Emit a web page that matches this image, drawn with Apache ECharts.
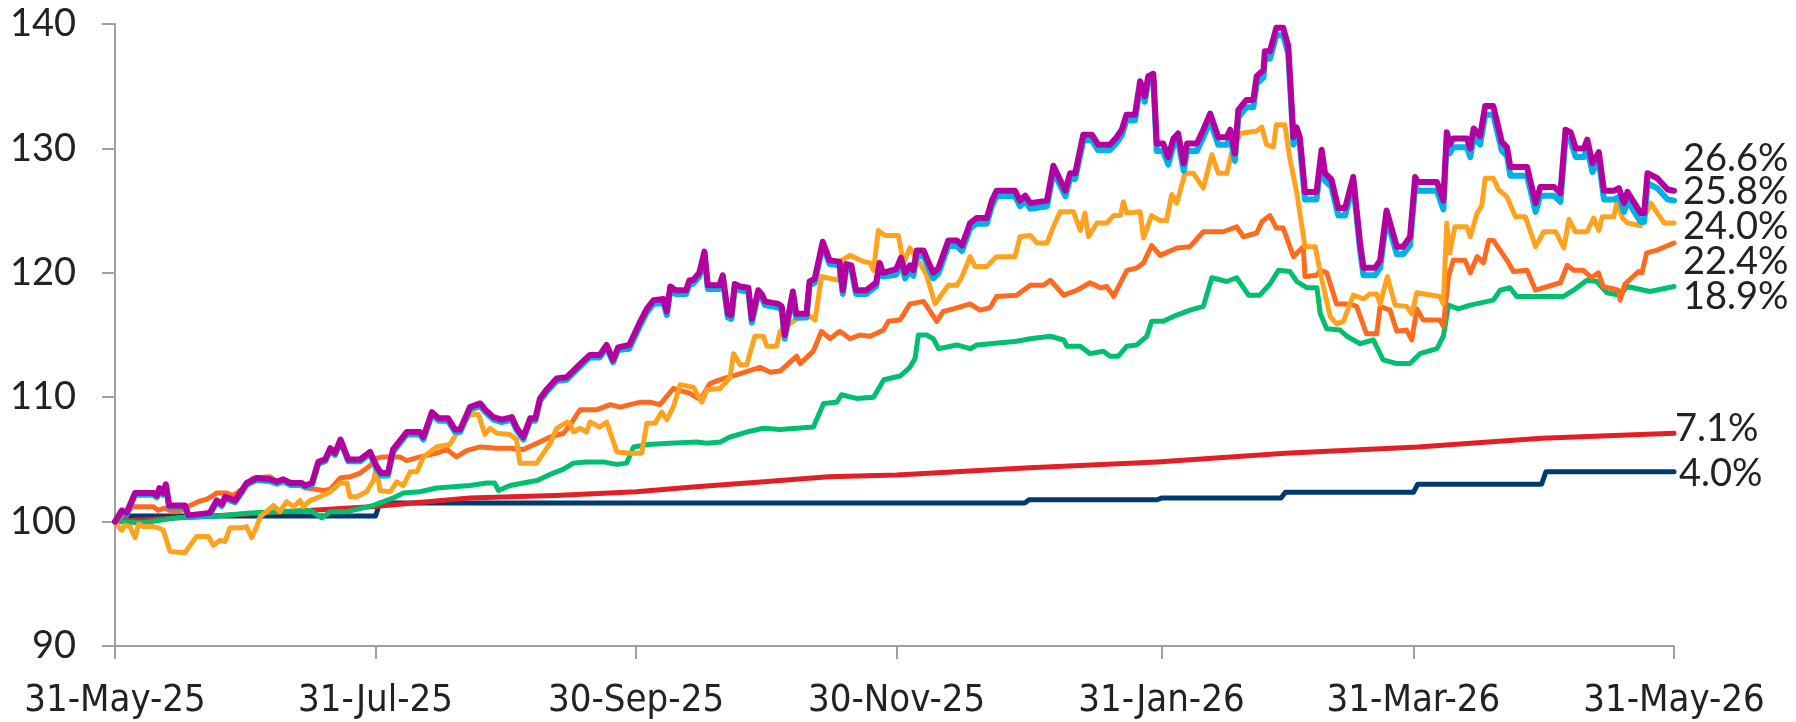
<!DOCTYPE html>
<html>
<head>
<meta charset="utf-8">
<title>Index performance</title>
<script src="https://cdn.jsdelivr.net/npm/echarts@6/dist/echarts.min.js"></script>
<style>
  html, body { margin: 0; padding: 0; background: #fff; }
  #chart { width: 1796px; height: 722px; }
</style>
</head>
<body>
<div id="chart"></div>
<script>
// x values are days counted from 31-May-25
const tickDays = [0, 61, 122, 183, 245, 304, 365];
const tickLabels = ['31-May-25', '31-Jul-25', '30-Sep-25', '30-Nov-25', '31-Jan-26', '31-Mar-26', '31-May-26'];

// magenta and cyan share the same dates
const mDays = [
  0, 1.6, 2.7, 4.7, 9, 9.8, 10.4, 11.2, 11.9, 12.7,
  16.4, 17.2, 22.2, 23.8, 25, 25.8, 28.1, 29.7, 30.8, 33.2,
  36.3, 37.9, 39.4, 41, 43.7, 44.5, 46.1, 47.6, 49.2, 50.4,
  51.5, 52.8, 54.6, 57.4, 59.7, 61.3, 62.4, 63.9, 65.1, 68.3,
  71.4, 72.2, 74.2, 75.8, 78, 79.6, 80.8, 83.1, 85.5, 86.7,
  88.6, 90.6, 92.9, 94.1, 95.6, 97.2, 98.4, 99.5, 101, 103.4,
  105.7, 108.1, 109.6, 111.2, 113.5, 115.1, 116.6, 117.8, 120.4, 123,
  124.5, 126.1, 128.4, 129.2, 130, 131.2, 133.7, 134.5, 135.3, 136.8,
  138, 138.8, 141.5, 142.3, 143.5, 144.3, 145.1, 146.3, 148.3, 149.1,
  150.6, 151.4, 152.2, 155.3, 156.1, 156.8, 158.7, 159.5, 161.9, 162.6,
  163.8, 165.7, 167.3, 169.6, 170.4, 171.2, 172.4, 173.5, 175.9, 178.2,
  179, 179.8, 182.9, 184, 185, 186.1, 186.9, 187.7, 189.3, 190.5,
  191.6, 192.8, 195.1, 197.1, 198.3, 200.2, 201.7, 204.1, 205.3, 206.4,
  210.7, 211.9, 213.1, 214.3, 218.2, 219.7, 222.5, 223.6, 224.8, 226.7,
  228.7, 230.2, 232.9, 234.5, 235.7, 236.8, 238.8, 240, 241.1, 241.9,
  243.1, 243.9, 245.4, 246.6, 247.8, 248.9, 250.2, 251, 253.3, 254.8,
  256.4, 258.3, 260.3, 261.1, 262.2, 263, 264.9, 266.5, 267.3, 268.9,
  269.2, 270.4, 271.9, 273.5, 274.7, 275.9, 276.6, 277.4, 278.6, 281.3,
  282.5, 283.3, 284.8, 286.4, 288, 289.9, 291.5, 292.3, 295, 296.2,
  297.7, 300.1, 301.6, 303.2, 304.4, 305, 309.5, 311, 311.8, 312.5,
  313.3, 316.5, 317.3, 318.1, 319.6, 320.8, 322.7, 324.7, 325.9, 326.7,
  330.6, 332.6, 333.7, 336.9, 338.4, 339.6, 340.8, 342, 343.9, 344.7,
  345.9, 347.4, 348.6, 351, 352.1, 353.3, 354.1, 357.2, 358, 358.8,
  361.1, 363.5, 365
];
const magenta = [
  100, 100.9, 100.7, 102.3, 102.3, 102.1, 102.7, 102.3, 103, 101.3,
  101.3, 100.5, 100.7, 101.7, 101.4, 102, 101.7, 102.5, 103.1, 103.5,
  103.4, 103.2, 103.4, 103.1, 103.1, 102.9, 103.1, 104.8, 105, 105.9,
  105.5, 106.6, 105, 105, 105.6, 104.4, 103.9, 103.9, 105.8, 107.2,
  107.2, 106.8, 108.8, 108.3, 108.3, 107.4, 107.4, 109.2, 109.5, 109,
  108.4, 108.2, 108.4, 107.5, 106.8, 108.3, 108.3, 109.9, 110.6, 111.5,
  111.6, 112.4, 112.9, 113.4, 113.4, 114.2, 113, 114, 114.2, 116.1,
  117.1, 117.8, 117.9, 116.9, 118.9, 118.6, 118.6, 119.4, 119.4, 120,
  121.7, 119, 119, 119.8, 116.7, 116.6, 119.1, 118.9, 118.8, 116.3,
  118.6, 118.3, 117.7, 117.5, 117.3, 115, 118.5, 116.7, 116.7, 119.3,
  119.5, 122.5, 121, 120.9, 118.6, 120.7, 120.6, 118.6, 118.6, 119.2,
  120.8, 120, 120.3, 121.2, 120, 120.6, 120.2, 121.8, 121.8, 120.8,
  120, 120.4, 122.6, 122.6, 122.2, 124, 124.4, 124.4, 125.8, 126.6,
  126.6, 125.8, 126.2, 125.6, 125.8, 128.6, 126.6, 128, 128, 131.1,
  131.1, 130.3, 130.3, 130.9, 131.5, 132.7, 132.7, 135.4, 134.2, 135.8,
  136, 130.4, 130.4, 129.3, 130.8, 131.2, 128.8, 130.4, 130.4, 131.5,
  132.8, 130.9, 130.9, 131.5, 129.6, 133.1, 133.9, 133.9, 135.8, 136.3,
  137.8, 137.8, 139.7, 139.7, 138.2, 130.9, 131.7, 130.9, 126.5, 126.5,
  129.9, 128, 127.5, 125.2, 125.2, 127.7, 122.4, 120.4, 120.4, 121,
  125, 122.1, 122.1, 122.9, 127.7, 127.3, 127.3, 125.8, 131.3, 130.3,
  130.8, 130.8, 130, 131.6, 131, 133.4, 133.4, 130.5, 130.1, 128.5,
  128.5, 125.6, 126.9, 126.9, 126.4, 131.5, 131.3, 130, 130, 130.7,
  128.8, 129.7, 126.6, 126.6, 126.8, 125.6, 126.5, 124.8, 124.8, 128,
  127.6, 126.7, 126.6
];
const cyan = [
  100, 100.75, 100.55, 102.15, 102.15, 101.95, 102.55, 102.15, 102.85, 101.15,
  101.15, 100.35, 100.55, 101.55, 101.25, 101.85, 101.55, 102.35, 102.95, 103.35,
  103.25, 103.05, 103.25, 102.95, 102.95, 102.75, 102.95, 104.65, 104.85, 105.75,
  105.35, 106.45, 104.85, 104.85, 105.45, 104.2, 103.7, 103.7, 105.6, 107,
  107, 106.6, 108.6, 108.1, 108.1, 107.2, 107.2, 109, 109.3, 108.8,
  108.2, 108, 108.2, 107.3, 106.6, 108.1, 108.1, 109.7, 110.4, 111.3,
  111.4, 112.2, 112.7, 113.2, 113.2, 114, 112.8, 113.8, 113.9, 115.8,
  116.8, 117.5, 117.6, 116.6, 118.6, 118.3, 118.3, 119.1, 119.1, 119.7,
  121.4, 118.7, 118.7, 119.5, 116.4, 116.3, 118.8, 118.6, 118.5, 116,
  118.3, 118, 117.4, 117.2, 117, 114.7, 118.2, 116.4, 116.4, 119,
  119.2, 122.2, 120.7, 120.6, 118.3, 120.4, 120.3, 118.3, 118.3, 118.9,
  120.5, 119.7, 119.85, 120.75, 119.55, 120.15, 119.75, 121.35, 121.35, 120.35,
  119.55, 119.95, 122.15, 122.15, 121.75, 123.55, 123.95, 123.95, 125.35, 126.15,
  126.15, 125.35, 125.75, 125.15, 125.35, 128.15, 126.15, 127.55, 127.55, 130.65,
  130.65, 129.85, 129.85, 130.45, 131.05, 132.25, 132.25, 134.95, 133.75, 135.35,
  135.5, 129.8, 129.8, 128.7, 130.2, 130.6, 128.2, 129.8, 129.8, 130.9,
  132.2, 130.3, 130.3, 130.9, 129, 132.5, 133.3, 133.3, 135.2, 135.7,
  137.2, 137.2, 139.1, 139.1, 137.6, 130.3, 131.1, 130.3, 125.9, 125.9,
  129.3, 127.4, 126.9, 124.6, 124.6, 127.1, 121.8, 119.8, 119.8, 120.4,
  124.4, 121.5, 121.5, 122.2, 127, 126.6, 126.6, 125.1, 130.6, 129.6,
  130.1, 130.1, 129.3, 130.9, 130.3, 132.7, 132.7, 129.8, 129.4, 127.8,
  127.8, 124.9, 126.2, 126.2, 125.7, 130.8, 130.6, 129.3, 129.3, 130,
  128.1, 129, 125.9, 125.9, 126.1, 124.9, 125.8, 124.1, 124.1, 127.2,
  126.8, 125.9, 125.8
];

const yDays = [
  0, 0.8, 1.6, 2.3, 3.5, 4.7, 5.5, 6.6, 9, 10.1,
  11.3, 12.9, 16.4, 17.6, 19.1, 21.9, 23, 24.6, 25.8, 26.9,
  29.7, 30.8, 32, 33.2, 34, 35.5, 37.1, 38.6, 40.2, 41.8,
  43.3, 44.1, 45.7, 48, 50.4, 52.7, 54.3, 55, 56.6, 58.9,
  60.5, 61.3, 62, 64.4, 66, 67.5, 69.1, 70.7, 72.2, 75.3,
  78.4, 80, 83.1, 85.1, 86.6, 87.8, 89.4, 92.5, 94, 94.8,
  98.7, 101.9, 103.4, 105.8, 106.5, 107.3, 108.9, 110.4, 111.2, 113.5,
  115.1, 117.5, 120.6, 123.3, 124.5, 126.4, 128, 129.2, 130.7, 132.3,
  135.4, 137.4, 138.6, 141.7, 144, 144.8, 146.4, 147.9, 149.8, 151.8,
  152.6, 154.9, 155.7, 157.3, 159.6, 162.7, 163.9, 165.4, 169.4, 170.1,
  172.1, 175.2, 176.8, 177.6, 178.7, 180.3, 183.4, 184.6, 186.1, 188.9,
  190, 192, 193.2, 195.1, 197.1, 198.2, 200.2, 201.4, 204.1, 206.4,
  210.7, 211.9, 214.3, 215.8, 218.2, 219.7, 221.3, 224.4, 226, 227.1,
  227.9, 229.9, 232.2, 233.8, 235.4, 236.1, 236.9, 240, 240.8, 242.7,
  244.7, 246.2, 247.4, 248.6, 250.5, 252.5, 254.8, 256.8, 258.3, 260.3,
  261.5, 263.4, 267.3, 268.5, 269.6, 271.2, 271.9, 273.9, 275.1, 276.7,
  278.6, 281, 282.2, 284.5, 286, 287.6, 289.9, 292.3, 293.8, 295.4,
  296.2, 297.9, 299.7, 302.4, 303.6, 304.8, 310.2, 311, 311.8, 312.5,
  313.7, 316.5, 317.3, 318.9, 320, 320.8, 322.7, 323.9, 325.9, 327.9,
  330.2, 332.6, 334.5, 337.3, 339.2, 340.4, 341.9, 344.6, 346.2, 347.4,
  348.2, 350.9, 351.7, 352.9, 354.1, 357.2, 358, 359.6, 361.1, 362.7,
  365
];
const yellow = [
  100, 99.6, 99.3, 99.7, 99.6, 98.7, 99.8, 99.6, 99.6, 99.5,
  99.3, 97.6, 97.5, 98.1, 98.8, 98.8, 98.1, 98.5, 98.4, 99.5,
  99.5, 99.6, 98.7, 99.6, 100.4, 100.8, 101.3, 100.8, 101.6, 101.2,
  101.7, 101.2, 101.7, 102, 102.4, 103.1, 103.1, 102, 102, 102.4,
  103.3, 104.5, 102.5, 102.4, 103.2, 102.9, 104, 104, 105.2, 106,
  106.2, 107.1, 108.6, 108.6, 107, 107.5, 107.1, 107, 106.6, 104.7,
  104.7, 106.3, 107.5, 108, 107.9, 107.2, 107.5, 107.2, 108, 107.6,
  108, 105.6, 105.5, 105.5, 107.9, 107.9, 108.8, 108.2, 109.2, 111,
  110.8, 109.6, 110.6, 110.7, 111.6, 113.5, 112.6, 112.6, 114.9, 114.9,
  114.1, 114.1, 115.3, 115.7, 116.3, 116.5, 116.2, 119.7, 119.4, 121,
  121.4, 120.9, 120.8, 120.2, 123.4, 123, 123, 120.8, 122, 120.5,
  119.8, 117.5, 118.1, 119, 119, 119.6, 121.3, 120.5, 120.5, 121.3,
  121.3, 122.9, 123, 122.4, 122.4, 123.7, 124.9, 124.9, 123.4, 124.8,
  122.9, 124, 124, 124.6, 124.6, 125.7, 124.8, 124.9, 122.8, 124.6,
  124.2, 124.2, 126.3, 125.6, 128, 128, 126.8, 129.5, 128, 128,
  129.7, 131.2, 131.4, 131.7, 130.3, 130.1, 131.9, 131.9, 129.1, 126.4,
  122.1, 122.1, 120, 116.5, 115.9, 116.1, 118.2, 117.9, 118.3, 118.3,
  117.5, 119.7, 117.4, 117.3, 116.7, 118.4, 118.1, 117.5, 124, 121.6,
  123.7, 123.7, 122.9, 124.8, 125.4, 127.6, 127.6, 126.7, 126.1, 124.5,
  124.5, 122.1, 123.3, 123.3, 122, 124.3, 123.3, 123.3, 124.4, 123.4,
  124.5, 124.5, 125.8, 124.4, 124, 123.8, 124.5, 125.6, 124.8, 124,
  124
];

const oDays = [
  0, 4.3, 9, 10.1, 11.7, 13.3, 15.6, 17.6, 19.5, 21.5,
  23, 23.8, 26.2, 27.7, 29.7, 31.2, 32.4, 36.3, 37.9, 40.2,
  42.5, 44.9, 48.8, 50.4, 52.7, 55, 57.4, 59.7, 61.3, 62.8,
  66.7, 68.3, 71.4, 75.3, 77.7, 80, 82.3, 85.5, 89.4, 92.5,
  95.6, 98.8, 101.9, 105, 106.6, 108.9, 112.8, 116, 118.3, 120.6,
  123, 125.3, 127.6, 130.7, 134.6, 137, 139.3, 142.4, 146.4, 151,
  153.4, 155.7, 159.6, 160.4, 163.5, 165.4, 167.4, 169.7, 172.1, 174.4,
  176.8, 179.9, 181.1, 183.8, 186.1, 189.3, 192.4, 193.9, 196.3, 200.2,
  202.5, 204.9, 206.4, 211.1, 214.3, 217.4, 219, 222.1, 225.2, 228.3,
  230.7, 232.2, 233.8, 236.9, 239.3, 240.8, 242.7, 244.7, 248.6, 251.7,
  254.8, 259.5, 262.6, 264.2, 267.3, 268.5, 270.4, 271.9, 273.5, 275.9,
  278.2, 278.6, 281.3, 282.2, 283.7, 286, 289.1, 290.7, 293, 295.4,
  296.2, 298.5, 300.1, 302.4, 303.6, 304.8, 306.3, 310.2, 311, 312.2,
  313.3, 316.1, 317.3, 318.9, 320.4, 321.6, 322.7, 325.9, 327.4, 330.6,
  332.6, 338.4, 340, 341.5, 343.8, 345.7, 347.3, 348.4, 352, 352.4,
  353.5, 356.7, 357.5, 358.6, 360.9, 365
];
const orange = [
  100, 101.2, 101.2, 100.9, 101.1, 100.8, 100.9, 101.3, 101.6, 101.8,
  102.1, 102.3, 102.3, 102.1, 102.6, 103.1, 103.5, 103.6, 103.2, 103.3,
  103, 102.7, 102.5, 102.6, 103.5, 103.6, 103.9, 104.5, 105.1, 105.2,
  105.2, 104.9, 105.2, 105.5, 105.8, 105.2, 105.7, 106, 105.9, 105.9,
  105.8, 106.3, 106.8, 107.1, 107.8, 109, 109, 109.4, 109.2, 109.4,
  109.6, 109.6, 109.4, 110.7, 110.3, 109.8, 111.1, 111.5, 111.9, 112.4,
  112, 112.1, 113.3, 112.7, 113.7, 115.3, 114.7, 115.3, 114.7, 115,
  114.9, 115.4, 116.1, 116.2, 117.5, 117.7, 116.1, 116.9, 117.1, 117.5,
  117, 117.2, 118.1, 118.2, 119, 119, 119.4, 118.2, 118.6, 119.2,
  118.8, 118.9, 118.1, 120.2, 120.4, 120.8, 122.2, 121.4, 122, 122.1,
  123.3, 123.3, 123.7, 122.9, 123.2, 124.1, 124.6, 123.6, 123.6, 121.3,
  122.1, 119.7, 119.8, 120.2, 120, 117.5, 117.5, 117.3, 115.1, 115.1,
  117.3, 117, 115.3, 115.4, 114.6, 117.1, 116.2, 116.2, 115.7, 119.7,
  121, 121, 120, 121.3, 120.8, 122.6, 122.6, 121, 120.1, 120.2,
  118.6, 119.2, 120.6, 120.2, 120.2, 119.6, 120, 118.9, 118.6, 117.8,
  119.1, 120.1, 120, 121.6, 121.8, 122.4
];

const gDays = [
  0, 6.6, 14.4, 22.2, 31.6, 37.9, 45.7, 48.4, 50.4, 54.3,
  58.2, 60.5, 62.1, 65.2, 67.5, 71.4, 75.3, 79.2, 83.1, 87,
  88.9, 89.8, 92.5, 95.6, 98.8, 102.6, 104.9, 107.3, 110.4, 114.3,
  117.5, 119.8, 121.4, 124.8, 129.9, 136.2, 138.6, 141.7, 144, 147.9,
  151.8, 155.7, 159.6, 163.5, 165.9, 169, 170.1, 173.6, 177.6, 180,
  183.8, 186.1, 187.3, 188.1, 190, 191.6, 192.8, 197.1, 200.2, 201.8,
  204.9, 211.1, 214.3, 219, 222.1, 222.9, 226, 228.3, 231.4, 233,
  234.9, 236.9, 239.2, 241.6, 242.7, 245.4, 248.6, 251.7, 254.8, 256.8,
  260.3, 262.6, 265.4, 268, 270.4, 272.4, 275.1, 276.7, 279, 281.4,
  282.2, 283.7, 286.8, 288.4, 291.5, 294.6, 296.9, 300.1, 303.2, 305.5,
  309.5, 311, 312.2, 314.5, 317.3, 322.7, 324.3, 326.6, 328.2, 339.1,
  341.5, 344.6, 346.9, 349.3, 352.4, 354, 359.4, 365
];
const green = [
  100, 99.9, 100.3, 100.4, 100.7, 100.8, 100.9, 100.3, 100.8, 100.8,
  101.1, 101.3, 101.5, 101.9, 102.3, 102.4, 102.7, 102.8, 102.9, 103.1,
  103.1, 102.5, 102.9, 103.1, 103.3, 103.9, 104.2, 104.7, 104.8, 104.8,
  104.6, 104.7, 106, 106.2, 106.3, 106.4, 106.3, 106.4, 106.8, 107.2,
  107.5, 107.4, 107.5, 107.6, 109.5, 109.6, 110.2, 109.9, 110, 111.4,
  111.7, 112.4, 113.1, 115, 115, 114.7, 113.9, 114.2, 113.9, 114.2,
  114.3, 114.5, 114.7, 114.9, 114.6, 114.1, 114.1, 113.5, 113.7, 113.3,
  113.3, 114.1, 114.2, 114.9, 116.1, 116.1, 116.6, 117, 117.3, 119.6,
  119.3, 119.6, 118.2, 118.2, 119.1, 120.2, 120.1, 119.3, 118.8, 118.8,
  116.7, 115.5, 115.4, 114.9, 114.3, 114.6, 113, 112.7, 112.7, 113.5,
  113.9, 114.9, 117.4, 117.1, 117.4, 117.8, 118.6, 118.8, 118.1, 118.1,
  118.6, 119.4, 119.3, 118.4, 118.2, 118.9, 118.5, 118.9
];

const rDays = [0, 15, 30, 45, 60, 83, 103, 122, 136, 152, 167, 183, 213, 244, 274, 305, 334, 365];
const red = [100, 100.3, 100.6, 100.9, 101.2, 101.9, 102.1, 102.4, 102.8, 103.2, 103.6, 103.75, 104.3, 104.8, 105.5, 106, 106.7, 107.1];

const nDays = [0, 1, 61, 62, 213, 214, 244, 245, 273, 274, 304, 305, 334, 335, 365];
const navy = [100, 100.45, 100.45, 101.5, 101.5, 101.75, 101.75, 101.9, 101.9, 102.35, 102.35, 103, 103, 104, 104];

const labelFont = 'Lato';
const dateFont = "'Liberation Sans Narrow', 'DejaVu Sans Condensed', Lato, sans-serif";

function pairs(days, vals) {
  return days.map((d, i) => [d, vals[i]]);
}

// one line with its end label (return over the period)
function lineSeries(name, days, vals, color, width, dx, dy) {
  return {
    name: name,
    type: 'line',
    data: pairs(days, vals),
    symbol: 'none',
    silent: true,
    lineStyle: { color: color, width: width, join: 'round', cap: 'round' },
    itemStyle: { color: color },
    endLabel: {
      show: true,
      distance: 0,
      offset: [dx, dy],
      color: '#222',
      fontFamily: labelFont,
      fontSize: 38,
      formatter: p => (p.value[1] - 100).toFixed(1) + '%'
    }
  };
}

const chart = echarts.init(document.getElementById('chart'));
chart.setOption({
  animation: false,
  backgroundColor: '#fff',
  grid: { left: 115, right: 122, top: 24, bottom: 76 },
  xAxis: {
    type: 'value',
    min: 0,
    max: 365,
    axisLine: { lineStyle: { color: '#a0a0a0', width: 2 } },
    axisTick: { customValues: tickDays, length: 13, lineStyle: { color: '#a0a0a0', width: 2 } },
    axisLabel: {
      customValues: tickDays,
      margin: 36,
      color: '#222',
      fontFamily: dateFont,
      fontSize: 38,
      formatter: v => tickLabels[tickDays.indexOf(v)]
    },
    splitLine: { show: false }
  },
  yAxis: {
    type: 'value',
    min: 90,
    max: 140,
    interval: 10,
    axisLine: { show: true, lineStyle: { color: '#a0a0a0', width: 2 } },
    axisTick: { show: true, length: 13, lineStyle: { color: '#a0a0a0', width: 2 } },
    axisLabel: { margin: 39, color: '#222', fontFamily: labelFont, fontSize: 38 },
    splitLine: { show: false }
  },
  series: [
    lineSeries('navy', nDays, navy, '#003a70', 5, 5, 2),
    lineSeries('red', rDays, red, '#e31e24', 5, 1, -5),
    lineSeries('green', gDays, green, '#00bf6f', 5, 9, 10),
    lineSeries('orange', oDays, orange, '#ff6a21', 5, 9, 19),
    lineSeries('yellow', yDays, yellow, '#ffa31f', 5, 9, 4),
    lineSeries('cyan', mDays, cyan, '#00b0e8', 6, 9, -9),
    lineSeries('magenta', mDays, magenta, '#b4009e', 6, 9, -32)
  ]
});
</script>
</body>
</html>
